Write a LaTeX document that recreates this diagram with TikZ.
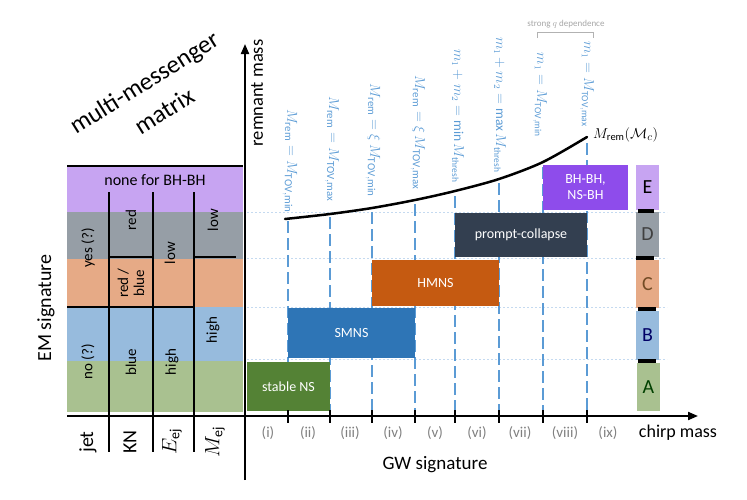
\documentclass[tikz,border=0pt]{standalone}
\usepackage{fontspec}
\setmainfont{Carlito}
\usetikzlibrary{arrows.meta}
\definecolor{rowE}{HTML}{C7A4F2}
\definecolor{rowD}{HTML}{969EA6}
\definecolor{rowC}{HTML}{E6AA86}
\definecolor{rowB}{HTML}{97BBDD}
\definecolor{rowA}{HTML}{A9C190}
\definecolor{bStable}{HTML}{548235}
\definecolor{bSMNS}{HTML}{2E75B6}
\definecolor{bHMNS}{HTML}{C55A11}
\definecolor{bPC}{HTML}{333F50}
\definecolor{bBH}{HTML}{8E4CEB}
\definecolor{lblue}{HTML}{5B9BD5}
\definecolor{gridc}{HTML}{C5DAF0}
\definecolor{romang}{HTML}{808080}
\begin{document}
\begin{tikzpicture}[x=1pt,y=-1pt,
  phasebox/.style={fill=#1,draw=none,text=white,inner sep=0pt,font=\fontsize{14}{16}\selectfont,align=center},
  letterbox/.style={fill=#1,draw=none,inner sep=0pt,minimum width=23pt,font=\fontsize{20}{22}\selectfont},
  mtext/.style={rotate=90,inner sep=0pt,font=\fontsize{15}{16}\selectfont,align=center},
  bottomlbl/.style={rotate=90,inner sep=0pt,font=\fontsize{20}{22}\selectfont},
  bluelbl/.style={rotate=-90,anchor=east,inner sep=0pt,text=lblue,font=\fontsize{15.5}{17}\selectfont},
  bluelblm/.style={bluelbl,font=\fontsize{13.5}{15}\selectfont},
  roman/.style={text=romang,inner sep=0pt,font=\fontsize{15}{16}\selectfont},
  vdash/.style={lblue,line width=2pt,dash pattern=on 12pt off 5pt},
  gridline/.style={gridc,line width=0.6pt,dash pattern=on 2pt off 2pt},
  mline/.style={black,line width=2pt},
  sepbar/.style={black,line width=4pt},
  tick/.style={black,line width=1.6pt},
  titletext/.style={rotate=32,inner sep=0pt,font=\fontsize{25}{30}\selectfont}
]
\useasboundingbox (0,0) rectangle (747,499);

% left matrix rows
\fill[rowE] (67,166) rectangle (243,212);
\fill[rowD] (67,212) rectangle (243,259);
\fill[rowC] (67,259) rectangle (243,307);
\fill[rowB] (67,307) rectangle (243,361);
\fill[rowA] (67,361) rectangle (243,412);

% matrix lines
\draw[mline] (67,166) -- (243,166);
\draw[mline] (109,192) -- (109,452);
\draw[mline] (153,192) -- (153,452);
\draw[mline] (194,192) -- (194,452);
\draw[mline] (109,257) -- (153,257);
\draw[mline] (194,257) -- (236,257);
\draw[mline] (67,307) -- (194,307);

% matrix texts
\node[inner sep=0pt,font=\fontsize{16}{18}\selectfont] (none) at (155,180) {none for BH-BH};
\node[mtext] (yes) at (88,248) {yes (?)};
\node[mtext] (red) at (131,220) {red};
\node[mtext] (redblue) at (131,283) {red /\\blue};
\node[mtext] (low1) at (170,253) {low};
\node[mtext] (low2) at (213,220) {low};
\node[mtext] (high1) at (213,330) {high};
\node[mtext] (no) at (88,362) {no (?)};
\node[mtext] (blue) at (131,362) {blue};
\node[mtext] (high2) at (172,362) {high};

\node[bottomlbl] (jet) at (88,442) {jet};
\node[bottomlbl] (kn) at (130,442) {KN};
\node[bottomlbl] (eej) at (172,442) {$E_{\mathrm{ej}}$};
\node[bottomlbl] (mej) at (215,442) {$M_{\mathrm{ej}}$};

\node[rotate=90,font=\fontsize{20}{22}\selectfont] (em) at (46,308) {EM signature};
\node[titletext] (title1) at (145,84) {multi-messenger};
\node[titletext] (title2) at (164,111) {matrix};

% grid lines
\foreach \yy in {212,258,307,359} \draw[gridline] (247,\yy) -- (667,\yy);

% dashed vertical lines
\foreach \xx/\yt in {288/221,330/217,372/212,415/204,455/196,499/183,543/167,587/143}
  \draw[vdash] (\xx,\yt) -- (\xx,414);

% blue labels
\node[bluelbl] (l1) at (290,213) {$M_{\mathrm{rem}}=M_{\mathrm{TOV,min}}$};
\node[bluelbl] (l2) at (332,202) {$M_{\mathrm{rem}}=M_{\mathrm{TOV,max}}$};
\node[bluelbl] (l3) at (373,197) {$M_{\mathrm{rem}}=\xi\, M_{\mathrm{TOV,min}}$};
\node[bluelbl] (l4) at (418,190) {$M_{\mathrm{rem}}=\xi\, M_{\mathrm{TOV,max}}$};
\node[bluelblm] (l5) at (458,183) {$m_1+m_2=\min M_{\mathrm{thresh}}$};
\node[bluelblm] (l6) at (500,173) {$m_1+m_2=\max M_{\mathrm{thresh}}$};
\node[bluelblm] (l7) at (540,137) {$m_1=M_{\mathrm{TOV,min}}$};
\node[bluelblm] (l8) at (587,127) {$m_1=M_{\mathrm{TOV,max}}$};

% strong q dependence
\node[text=gray!70,inner sep=0pt,font=\fontsize{9}{10}\selectfont] (qdep) at (566,24) {strong $q$ dependence};
\draw[gray!60,line width=0.8pt] (537,38) -- (537,32) -- (593,32) -- (593,38);

% curve
\draw[black,line width=2.5pt,line cap=round] plot[smooth] coordinates {(285,219) (330,214) (372,208) (415,200) (455,191) (499,179) (543,162) (587,137)};
\node[anchor=west,inner sep=0pt,font=\fontsize{15}{16}\selectfont] (mrem) at (593,135) {$M_{\mathrm{rem}}(\mathcal{M}_c)$};

% phase boxes
\node[phasebox=bStable,minimum width=83pt,minimum height=49pt] (stable) at (288.5,386.5) {stable NS};
\node[phasebox=bSMNS,minimum width=127pt,minimum height=50pt] (smns) at (351.5,333) {SMNS};
\node[phasebox=bHMNS,minimum width=127pt,minimum height=46pt] (hmns) at (435.5,283) {HMNS};
\node[phasebox=bPC,minimum width=132pt,minimum height=44pt] (pc) at (521,235) {prompt-collapse};
\node[phasebox=bBH,minimum width=85pt,minimum height=45pt] (bh) at (585.5,187.5) {BH-BH,\\NS-BH};

% right letters
\node[letterbox=rowE,minimum height=45pt,text=black] (E) at (647.5,187.5) {E};
\node[letterbox=rowD,minimum height=45pt,text=black!75] (D) at (647.5,234.5) {D};
\node[letterbox=rowC,minimum height=48pt,text=brown!60!black] (C) at (647.5,284) {C};
\node[letterbox=rowB,minimum height=49pt,text=blue!40!black] (B) at (647.5,335.5) {B};
\node[letterbox=rowA,minimum height=48pt,text=green!25!black] (A) at (648.5,387) {A};
\draw[sepbar] (638,211) -- (654,211);
\draw[sepbar] (636,258) -- (654,258);
\draw[sepbar] (638,309) -- (656,309);
\draw[sepbar] (638,361) -- (656,361);

% axes
\coordinate (ybot) at (245,480);
\coordinate (ytop) at (245,44);
\coordinate (xleft) at (67,416);
\coordinate (xright) at (698,416);
\draw[black,line width=2pt,-{Triangle[length=10pt,width=8pt]}] (ybot) -- (ytop);
\draw[black,line width=2pt,-{Triangle[length=10pt,width=8pt]}] (xleft) -- (xright);
\foreach \xx in {288,330,372,415,455,499,543,587} \draw[tick] (\xx,410) -- (\xx,423);

\node[rotate=90,font=\fontsize{18.5}{20}\selectfont] (remmass) at (257,93) {remnant mass};

% roman numerals
\node[roman] (r1) at (268,433) {(i)};
\node[roman] (r2) at (308,433) {(ii)};
\node[roman] (r3) at (350,433) {(iii)};
\node[roman] (r4) at (393,433) {(iv)};
\node[roman] (r5) at (435,433) {(v)};
\node[roman] (r6) at (477,433) {(vi)};
\node[roman] (r7) at (520,433) {(vii)};
\node[roman] (r8) at (565,433) {(viii)};
\node[roman] (r9) at (608,433) {(ix)};
\node[inner sep=0pt,font=\fontsize{18}{20}\selectfont] (chirp) at (678,433) {chirp mass};
\node[inner sep=0pt,font=\fontsize{19}{20}\selectfont] (gw) at (435,465) {GW signature};
\end{tikzpicture}
\end{document}
